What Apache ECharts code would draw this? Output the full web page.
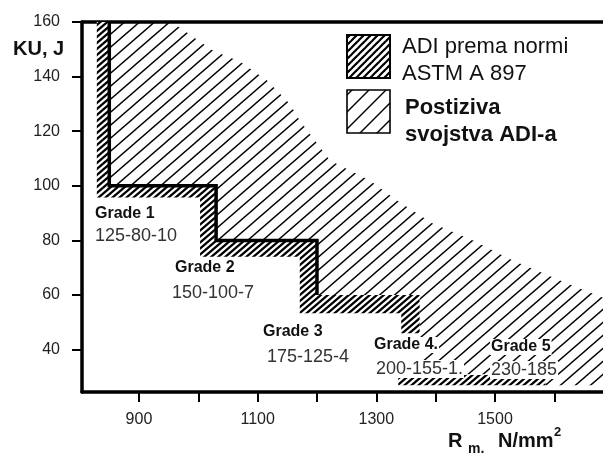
<!DOCTYPE html>
<html><head><meta charset="utf-8">
<script src="https://cdn.jsdelivr.net/npm/echarts@6/dist/echarts.min.js"></script>
<style>html,body{margin:0;padding:0;background:#fff}#c{width:603px;height:453px}</style>
</head><body><div id="c"></div>
<script>
// ---- data ----
const xTicks = [900, 1000, 1100, 1200, 1300, 1400, 1500, 1600];
const xTickLabels = [900, 1100, 1300, 1500];
const yTicks = [40, 60, 80, 100, 120, 140, 160];
const xRange = [804, 1682];
const yRange = [24.5, 160];
// ASTM A897 minimum boundary (Rm N/mm2, KU J)
const astmStep = [[850,160],[850,100],[1030,100],[1030,80],[1200,80],[1200,60]];
const astmBand = [[829,160],[850,160],[850,100],[1030,100],[1030,80],[1200,80],[1200,60],[1373,60],[1373,46],[1342,46],[1342,53.3],[1171,53.3],[1171,74],[1003,74],[1003,95.7],[829,95.7]];
const astmBandLow = [[1337,27],[1585,27],[1585,30.7],[1337,30.7]];
// achievable ADI region
const adiUpper = [[955,160],[1025,149.5],[1070,145.5],[1116,138.6],[1154,130.1],[1171,123.9],[1222,109.3],[1289,102],[1335,94.6],[1395,86.2],[1463,80],[1530,72.7],[1621,64.3],[1682,59]];
const adiLower = [[850,160],[850,100],[1030,100],[1030,80],[1200,80],[1200,60],[1373,60],[1373,31],[1585,31],[1585,27],[1682,27]];
const gradeNames = ['Grade 1', 'Grade 2', 'Grade 3', 'Grade 4.', 'Grade 5'];
const gradeCodes = ['125-80-10', '150-100-7', '175-125-4', '200-155-1.', '230-185'];
const legendNames = [['ADI prema normi', 'ASTM A 897'], ['Postiziva', 'svojstva ADI-a']];

// ---- styles ----
const FF = '"Liberation Sans", Arial, sans-serif';
function hatch(W, H, lw, bg) {
  const c = document.createElement('canvas'); c.width = W; c.height = H;
  const g = c.getContext('2d');
  if (bg) { g.fillStyle = bg; g.fillRect(0, 0, W, H); }
  g.strokeStyle = '#000'; g.lineWidth = lw;
  for (let k = -1; k <= 1; k++) { g.beginPath(); g.moveTo(k*W - W, 2*H); g.lineTo(k*W + 2*W, -H); g.stroke(); }
  return { image: c, repeat: 'repeat' };
}
const dense = hatch(7, 6, 2.3, '#fff');
const sparse = hatch(15, 13, 1.4, null);
const sparseLeg = hatch(17, 17, 1.4, '#fff');
const denseLeg = hatch(7, 7, 2.2, '#fff');

function polySeries(name, pts, fill, z) {
  return {
    type: 'custom', name, z, silent: true, data: pts,
    renderItem: (p, api) => p.dataIndex !== 0 ? null : ({
      type: 'polygon', shape: { points: pts.map(q => api.coord(q)) },
      style: { fill, stroke: null }
    })
  };
}

const adiRegion = adiLower.concat(adiUpper.slice().reverse());

const chart = echarts.init(document.getElementById('c'), null, { renderer: 'canvas' });

function txt(text, x, y, size, bold, color, bg) {
  const st = { text, x, y, font: (bold ? 'bold ' : '') + size + 'px ' + FF, fill: color || '#111', verticalAlign: 'middle', align: 'left' };
  if (bg) { st.backgroundColor = '#fff'; st.padding = [0, 1]; }
  return { type: 'text', z: 100, style: st };
}

const gradePos = [[95,214,95,236],[175,268,172,293],[263,332,267,357],[373,345,375,369],[490,347,490,370]];
const graphics = [];
gradeNames.forEach((g, i) => {
  const p = gradePos[i];
  const bg = i >= 3;
  graphics.push(txt(g, p[0], p[1], 16, true, '#111', bg));
  graphics.push(txt(gradeCodes[i], p[2], p[3], 18, false, '#333', bg));
});
// legend
graphics.push({ type: 'rect', z: 100, shape: { x: 347, y: 35, width: 43, height: 43 }, style: { fill: denseLeg, stroke: '#000', lineWidth: 2 } });
graphics.push({ type: 'rect', z: 100, shape: { x: 347, y: 90, width: 43, height: 43 }, style: { fill: sparseLeg, stroke: '#000', lineWidth: 1.6 } });
graphics.push(txt(legendNames[0][0], 402, 47, 22, false, '#111'));
graphics.push(txt(legendNames[0][1], 402, 74, 22, false, '#111'));
graphics.push(txt(legendNames[1][0], 405, 108, 22, true, '#111'));
graphics.push(txt(legendNames[1][1], 405, 135, 22, true, '#111'));
// axis names
graphics.push(txt('KU, J', 13, 49, 20, true, '#111'));
graphics.push(txt('R', 448, 441, 20, true, '#111'));
graphics.push(txt('m,', 468, 449, 14, true, '#111'));
graphics.push(txt('N/mm', 498, 441, 20, true, '#111'));
graphics.push(txt('2', 554, 432, 13, true, '#111'));

chart.setOption({
  animation: false,
  backgroundColor: '#fff',
  grid: { left: 82, right: 0, top: 22, bottom: 61, containLabel: false },
  xAxis: [{
    type: 'value', min: xRange[0], max: xRange[1], position: 'bottom',
    axisLine: { onZero: false, lineStyle: { color: '#000', width: 3.5 } },
    axisTick: { customValues: xTicks, length: 10, lineStyle: { color: '#000', width: 2 } },
    axisLabel: { customValues: xTickLabels, fontSize: 16, color: '#222', margin: 20, fontFamily: FF, formatter: v => String(v) },
    splitLine: { show: false }
  }, {
    type: 'value', min: xRange[0], max: xRange[1], position: 'top',
    axisLine: { onZero: false, lineStyle: { color: '#000', width: 3.5 } },
    axisTick: { show: false }, axisLabel: { show: false }, splitLine: { show: false }
  }],
  yAxis: {
    type: 'value', min: yRange[0], max: yRange[1],
    axisLine: { show: true, onZero: false, lineStyle: { color: '#000', width: 3.5 } },
    axisTick: { show: true, customValues: yTicks, length: 10, lineStyle: { color: '#000', width: 2 } },
    axisLabel: { customValues: yTicks, fontSize: 16, color: '#222', margin: 22, fontFamily: FF, formatter: v => String(v) },
    splitLine: { show: false }
  },
  series: [
    polySeries('Postiziva svojstva ADI-a', adiRegion, sparse, 1),
    polySeries('ADI prema normi ASTM A 897', astmBand, dense, 2),
    polySeries('ADI prema normi ASTM A 897 (4-5)', astmBandLow, dense, 2),
    { type: 'line', name: 'ASTM A 897 granica', data: astmStep, symbol: 'none', z: 5, silent: true,
      lineStyle: { color: '#000', width: 3.5, join: 'miter' } }
  ],
  graphic: graphics
});
</script>
</body></html>
